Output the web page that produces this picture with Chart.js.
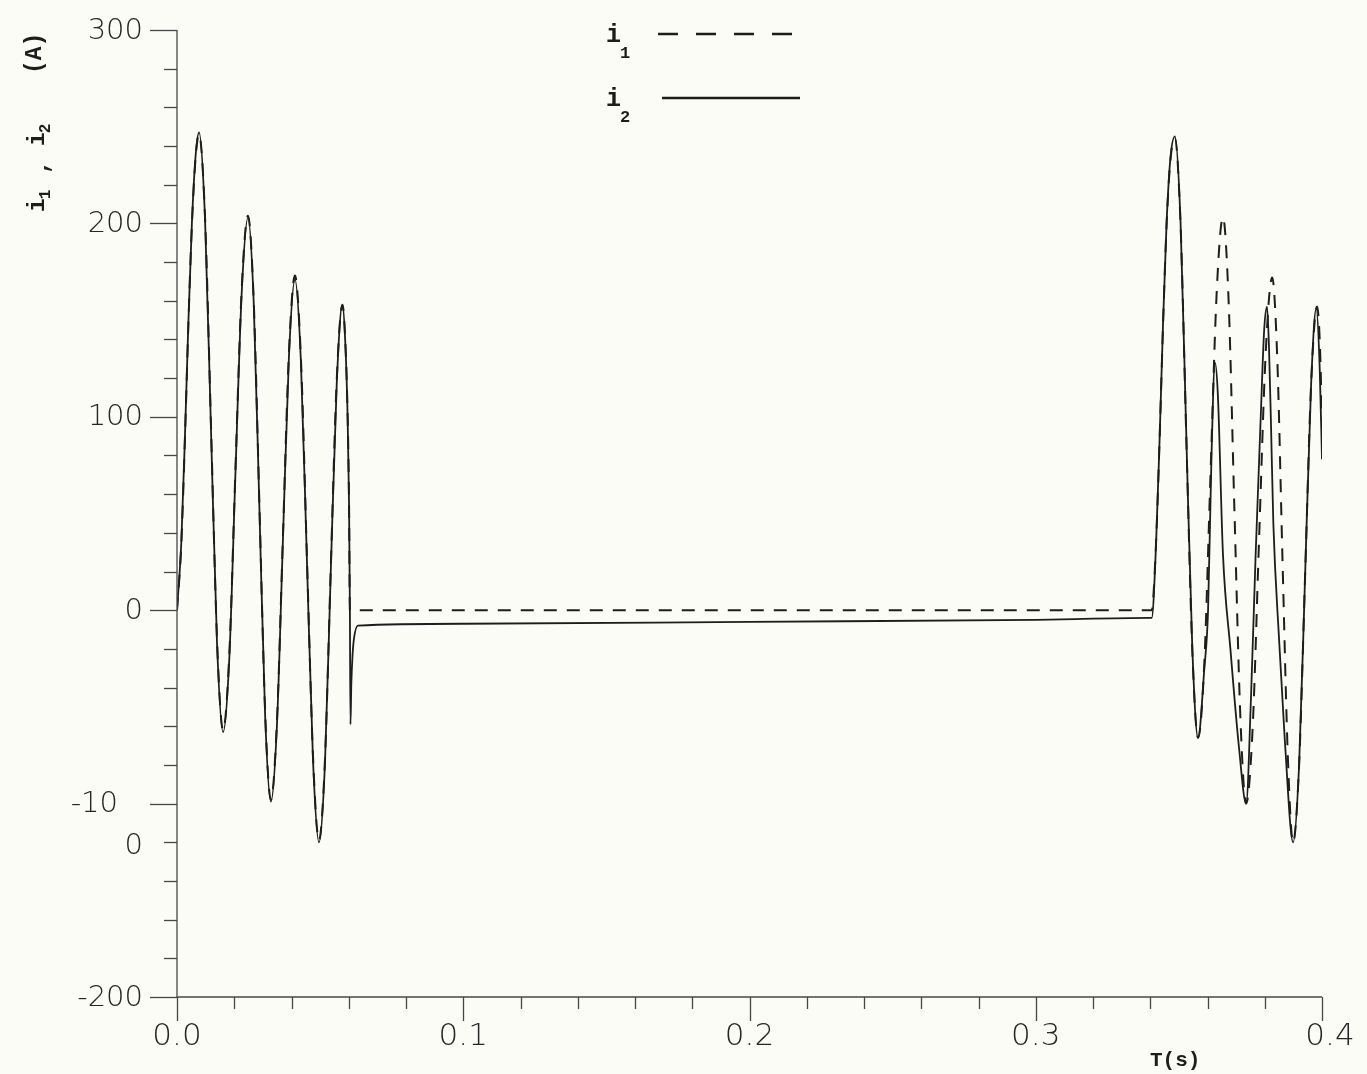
<!DOCTYPE html>
<html>
<head>
<meta charset="utf-8">
<title>i1, i2 (A) versus T(s)</title>
<script src="https://cdn.jsdelivr.net/npm/chart.js@4.4.1/dist/chart.umd.min.js"></script>
<style>
  html, body { margin: 0; padding: 0; background: #fcfcf6; }
  canvas { display: block; }
</style>
</head>
<body>
<canvas id="chart" width="1367" height="1074"></canvas>
<script>
// ---- first burst: energisation at t = 0 until the current zero near 0.06 s ----
const burst1Times = [0, 0.0015, 0.0028, 0.0040, 0.0052, 0.0065, 0.0077,
  0.0098, 0.0119, 0.0140, 0.0161, 0.0183, 0.0204, 0.0226, 0.0248,
  0.0268, 0.0288, 0.0308, 0.0328, 0.0349, 0.0370, 0.0391, 0.0412,
  0.0433, 0.0454, 0.0475, 0.0496, 0.0517, 0.0537, 0.0558, 0.0578,
  0.0588, 0.0596, 0.0601, 0.0604, 0.0606, 0.0609, 0.0613, 0.0618, 0.0632];
const burst1I1 = [0, 34, 90, 149, 199, 234, 246,
  203, 94, -16, -62, -22, 72, 166, 204,
  160, 54, -53, -98, -58, 38, 133, 173,
  130, 27, -75, -119, -77, 21, 119, 158,
  139, 101, 56, 0, 0, 0, 0, 0, 0];
const burst1I2 = [0, 35, 91, 150, 200, 235, 247,
  202, 92, -18, -63, -24, 70, 164, 203,
  159, 52, -55, -99, -60, 36, 131, 171,
  128, 25, -77, -120, -79, 19, 117, 158,
  138, 100, 55, 0, -59, -38, -24, -15, -8];

// ---- open interval ----
const plateauTimes = [0.1, 0.2, 0.3, 0.34];
const plateauI1 = [0, 0, 0, 0];
const plateauI2 = [-7, -6, -5, -4];

// ---- second burst: reclosing at about 0.34 s ----
const burst2TimesI1 = [0.3405, 0.3420, 0.3433, 0.3445, 0.3457, 0.3470, 0.3486,
  0.3506, 0.3526, 0.3547, 0.3567, 0.3589, 0.3610, 0.3632, 0.3654,
  0.3674, 0.3694, 0.3715, 0.3735, 0.3758, 0.3780, 0.3803, 0.3826,
  0.3844, 0.3862, 0.3881, 0.3899, 0.3920, 0.3941, 0.3962, 0.3983,
  0.3992, 0.4000];
const burst2I1 = [0, 34, 90, 149, 199, 232, 244,
  199, 89, -21, -66, -27, 68, 164, 203,
  159, 52, -56, -100, -60, 36, 132, 172,
  129, 26, -77, -120, -80, 18, 117, 157,
  140, 98];
const burst2TimesI2 = [0.3405, 0.3420, 0.3433, 0.3445, 0.3457, 0.3470, 0.3486,
  0.3506, 0.3526, 0.3547, 0.3567, 0.3589, 0.3602, 0.3614, 0.3626,
  0.3636, 0.3654, 0.3680, 0.3710, 0.3735, 0.3752, 0.3768, 0.3786, 0.3798, 0.3808,
  0.3815, 0.3822, 0.3830, 0.3850, 0.3870, 0.3899,
  0.3920, 0.3941, 0.3962, 0.3980, 0.3992, 0.4000];
const burst2I2 = [-4, 33, 90, 150, 200, 233, 245,
  200, 90, -20, -66, -30, 0, 80, 128,
  112, 29, -20, -71, -100, -45, 28, 100, 145, 157,
  135, 95, 45, -15, -67, -120,
  -80, 18, 117, 156, 125, 78];

// ---- axes ----
const xTickValues = [0, 0.1, 0.2, 0.3, 0.4];
const xTickLabels = ['0.0', '0.1', '0.2', '0.3', '0.4'];
const yTickValues = [300, 200, 100, 0, -100, -200];
const yTickLabels = ['300', '200', '100', '0', ['-10', '0'], '-200'];
const seriesSubscripts = ['1', '2'];
const xTitle = 'T(s)';

const paper = '#fcfcf6';
const ink = '#1d1d1d';
const axisInk = '#474747';
const labelInk = '#262626';

function toPoints(ts, vs) {
  return ts.map((t, k) => ({ x: t, y: vs[k] }));
}
const i1Points = [].concat(toPoints(burst1Times, burst1I1),
  toPoints(plateauTimes, plateauI1), toPoints(burst2TimesI1, burst2I1));
const i2Points = [].concat(toPoints(burst1Times, burst1I2),
  toPoints(plateauTimes, plateauI2), toPoints(burst2TimesI2, burst2I2));

// draws "i" followed by a lowered subscript digit
function drawSubscripted(ctx, x, y, sub, big, small, dy) {
  ctx.font = 'bold ' + big + 'px "Liberation Mono", "DejaVu Sans Mono", monospace';
  ctx.fillText('i', x, y);
  const w = ctx.measureText('i').width;
  ctx.font = 'bold ' + small + 'px "Liberation Mono", "DejaVu Sans Mono", monospace';
  ctx.fillText(sub, x + w - 1, y + dy);
}

const plotterFrame = {
  id: 'plotterFrame',
  beforeDraw(chart) {
    const ctx = chart.ctx;
    ctx.save();
    ctx.fillStyle = paper;
    ctx.fillRect(0, 0, chart.width, chart.height);
    ctx.restore();
  },
  afterDraw(chart) {
    const ctx = chart.ctx;
    const xs = chart.scales.x, ys = chart.scales.y;
    const x0 = xs.getPixelForValue(0);
    const xEnd = xs.getPixelForValue(0.4);
    const yTop = ys.getPixelForValue(300);
    const yBase = ys.getPixelForValue(-200);

    ctx.save();
    ctx.strokeStyle = axisInk;
    ctx.lineWidth = 1.3;

    // axis lines
    ctx.beginPath();
    ctx.moveTo(x0, yTop);
    ctx.lineTo(x0, yBase);
    ctx.moveTo(x0, yBase);
    ctx.lineTo(xEnd, yBase);
    ctx.stroke();

    // y ticks every 20 A, longer at the labelled hundreds
    for (let v = -200; v <= 300; v += 20) {
      const py = Math.round(ys.getPixelForValue(v)) + 0.5;
      const major = v % 100 === 0;
      ctx.beginPath();
      ctx.moveTo(x0, py);
      ctx.lineTo(x0 - (major ? 27 : 13), py);
      ctx.stroke();
    }
    // x ticks every 0.02 s, longer at the labelled tenths
    for (let k = 0; k <= 20; k++) {
      const px = Math.round(xs.getPixelForValue(k * 0.02)) + 0.5;
      const major = k % 5 === 0;
      ctx.beginPath();
      ctx.moveTo(px, yBase);
      ctx.lineTo(px, yBase + (major ? 24 : 12));
      ctx.stroke();
    }

    // tick labels
    ctx.fillStyle = labelInk;
    ctx.textBaseline = 'middle';
    ctx.font = '200 29px "DejaVu Sans", sans-serif';
    ctx.textAlign = 'right';
    yTickValues.forEach((v, k) => {
      const py = ys.getPixelForValue(v);
      const lab = yTickLabels[k];
      if (Array.isArray(lab)) {
        ctx.fillText(lab[0], 118, py + 1);
        ctx.fillText(lab[1], 143, py + 43);
      } else {
        ctx.fillText(lab, 143, py + 1);
      }
    });
    ctx.font = '200 31px "DejaVu Sans", sans-serif';
    ctx.textAlign = 'center';
    xTickValues.forEach((v, k) => {
      const px = xs.getPixelForValue(v);
      ctx.fillText(xTickLabels[k], px + (k === 4 ? 8 : 0), 1037);
    });

    // axis titles
    ctx.fillStyle = ink;
    ctx.textAlign = 'left';
    ctx.textBaseline = 'alphabetic';
    ctx.font = 'bold 21px "Liberation Mono", "DejaVu Sans Mono", monospace';
    ctx.fillText(xTitle, 1150, 1066);

    ctx.save();
    ctx.translate(44, 0);
    ctx.rotate(-Math.PI / 2);
    drawSubscripted(ctx, -212, 0, seriesSubscripts[0], 23, 16, 6);
    ctx.font = 'bold 23px "Liberation Mono", "DejaVu Sans Mono", monospace';
    ctx.fillText(',', -174, 4);
    drawSubscripted(ctx, -146, 0, seriesSubscripts[1], 23, 16, 6);
    ctx.font = 'bold 23px "Liberation Mono", "DejaVu Sans Mono", monospace';
    ctx.fillText('(A)', -74, -3);
    ctx.restore();

    // key
    ctx.fillStyle = ink;
    drawSubscripted(ctx, 606, 42, seriesSubscripts[0], 25, 17, 16);
    drawSubscripted(ctx, 606, 106, seriesSubscripts[1], 25, 17, 16);
    ctx.strokeStyle = ink;
    ctx.lineWidth = 2.4;
    ctx.setLineDash([20, 18]);
    ctx.beginPath();
    ctx.moveTo(658, 34);
    ctx.lineTo(800, 34);
    ctx.stroke();
    ctx.setLineDash([]);
    ctx.beginPath();
    ctx.moveTo(662, 98);
    ctx.lineTo(800, 98);
    ctx.stroke();

    ctx.restore();
  }
};

new Chart(document.getElementById('chart'), {
  type: 'line',
  data: {
    datasets: [
      {
        label: 'i1',
        data: i1Points,
        borderColor: ink,
        borderWidth: 2,
        borderDash: [13, 10],
        pointRadius: 0,
        cubicInterpolationMode: 'monotone',
        fill: false
      },
      {
        label: 'i2',
        data: i2Points,
        borderColor: ink,
        borderWidth: 1.8,
        pointRadius: 0,
        cubicInterpolationMode: 'monotone',
        fill: false
      }
    ]
  },
  options: {
    responsive: false,
    animation: false,
    events: [],
    layout: { padding: { top: 30, right: 45, left: 0, bottom: 0 } },
    plugins: { legend: { display: false }, tooltip: { enabled: false } },
    scales: {
      x: {
        type: 'linear', min: 0, max: 0.4,
        grid: { display: false }, border: { display: false },
        ticks: { display: false },
        afterFit(s) { s.height = 77; }
      },
      y: {
        type: 'linear', min: -200, max: 300,
        grid: { display: false }, border: { display: false },
        ticks: { display: false },
        afterFit(s) { s.width = 177; }
      }
    }
  },
  plugins: [plotterFrame]
});
</script>
</body>
</html>
